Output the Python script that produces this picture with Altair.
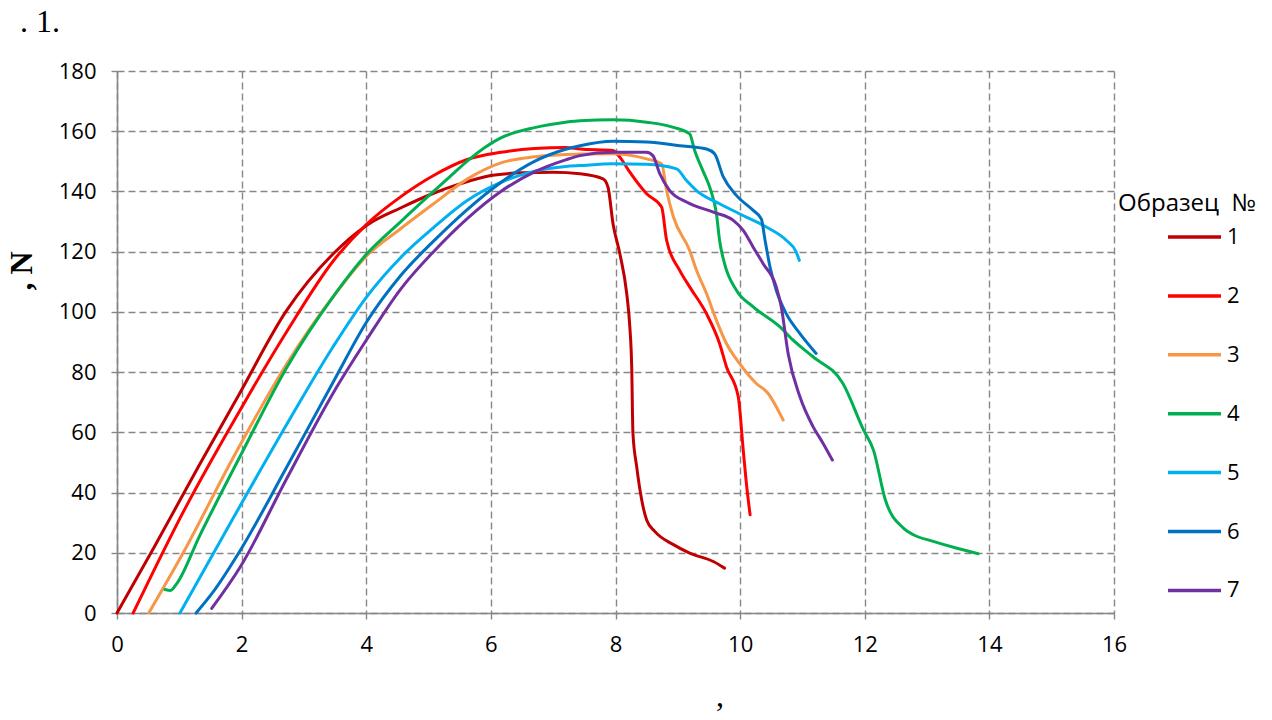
import altair as alt
import pandas as pd

# ---- data ----
x1 = [0, 0.6, 1.33, 1.97, 2.72, 3.47, 4.01, 4.55, 5.08, 5.5, 6.0, 6.5, 7.0, 7.43, 7.8, 7.88, 7.96, 8.07, 8.18, 8.23, 8.26, 8.28, 8.34, 8.42, 8.50, 8.63, 8.93, 9.19, 9.57, 9.75]
y1 = [0, 22, 49.5, 73, 100.4, 119.3, 128.8, 134.5, 139.4, 142.5, 145.3, 146.2, 146.4, 145.9, 144.2, 141.4, 129.3, 119.3, 106.1, 95, 81.8, 59.7, 48.6, 37.6, 30.9, 27.1, 22.7, 19.9, 17.1, 14.9]

x2 = [0.26, 1.1, 1.97, 2.72, 3.47, 4.0, 4.55, 5.08, 5.62, 6.16, 6.7, 7.2, 7.43, 7.96, 8.07, 8.23, 8.50, 8.74, 8.82, 9.03, 9.19, 9.46, 9.67, 9.78, 9.97, 10.05, 10.10, 10.16]
y2 = [0, 35, 67.2, 93.3, 116.9, 129, 138.2, 145.3, 150.6, 153, 154.3, 154.6, 154.1, 153.6, 151.4, 146.4, 139.2, 134.8, 123.8, 113.8, 108.3, 99.4, 89.5, 81.8, 71.8, 54.1, 43.1, 32.6]

x3 = [0.51, 1.06, 1.87, 2.72, 3.47, 4.01, 4.55, 5.08, 5.62, 6.16, 6.7, 7.2, 7.43, 7.96, 8.50, 8.74, 8.82, 8.93, 9.19, 9.30, 9.46, 9.62, 9.78, 9.99, 10.26, 10.45, 10.58, 10.69]
y3 = [0, 19.9, 51.8, 82.6, 105.1, 118.7, 127.6, 135.9, 144.1, 149.5, 151.5, 152.3, 152.4, 152.5, 150.8, 149.2, 140.3, 131.5, 120.4, 113.8, 106.1, 97.2, 89.5, 82.9, 76.2, 72.9, 68.5, 64.1]

x4 = [0.77, 0.86, 0.95, 1.33, 1.97, 2.72, 3.47, 4.01, 4.55, 5.08, 5.4, 5.62, 6.16, 6.7, 7.2, 7.43, 7.96, 8.50, 8.93, 9.19, 9.27, 9.40, 9.53, 9.62, 9.67, 9.75, 9.94, 10.21, 10.64, 10.85, 11.17, 11.65, 11.98, 12.14, 12.33, 12.62, 12.78, 13.10, 13.48, 13.82]
y4 = [7.8, 7.5, 9.5, 25.8, 51.8, 81.4, 105.1, 119.3, 129.9, 140, 146, 150.1, 157.8, 161.2, 163, 163.5, 163.8, 163, 161.3, 159.1, 153.6, 147, 140.3, 132.6, 123.8, 116, 107.2, 101.7, 95, 90.6, 85.1, 76.2, 60.8, 54.1, 37.6, 28.2, 26, 23.8, 21.5, 19.7]

x5 = [1.01, 1.87, 2.72, 3.47, 4.01, 4.55, 5.08, 5.62, 6.16, 6.7, 7.2, 7.43, 7.96, 8.50, 8.98, 9.14, 9.30, 9.67, 10.10, 10.42, 10.74, 10.90, 10.95]
y5 = [0, 31.7, 62.5, 88.5, 105.1, 118, 128, 137, 143, 146.7, 148.3, 148.6, 149.2, 149, 147.5, 143.6, 140.3, 135.9, 131.5, 128.2, 123.8, 119.9, 117.1]

x6 = [1.27, 1.54, 1.97, 2.72, 3.47, 4.01, 4.55, 5.08, 5.62, 6.16, 6.7, 7.2, 7.43, 7.96, 8.50, 9.03, 9.46, 9.59, 9.73, 9.94, 10.21, 10.34, 10.40, 10.48, 10.58, 10.74, 10.96, 11.22]
y6 = [0, 6.9, 20.5, 48.3, 76.7, 96.8, 112, 123.5, 134, 143, 150, 154, 155.2, 156.7, 156.4, 155.2, 154.1, 152.5, 144.8, 138.7, 133.7, 130.9, 123.8, 114.9, 107.2, 99.4, 92.8, 86.2]

x7 = [1.52, 1.97, 2.72, 3.47, 4.01, 4.55, 5.08, 5.62, 6.16, 6.7, 7.2, 7.43, 7.96, 8.50, 8.60, 8.71, 8.87, 9.14, 9.57, 9.89, 10.05, 10.21, 10.37, 10.58, 10.66, 10.77, 10.96, 11.17, 11.33, 11.48]
y7 = [1.5, 15, 44.5, 73.1, 90.9, 107.5, 120, 131, 140, 146.5, 150.5, 151.9, 153, 153, 151.9, 145.9, 140.3, 136.5, 133.1, 130.4, 127.1, 121.5, 116, 108.3, 101.7, 86.2, 71.8, 61.9, 56.4, 50.8]

samples = ["1", "2", "3", "4", "5", "6", "7"]
colors = ["#C00000", "#FF0000", "#F79646", "#00B050", "#00B0F0", "#0070C0", "#7030A0"]
x_ticks = [0, 2, 4, 6, 8, 10, 12, 14, 16]
y_ticks = [0, 20, 40, 60, 80, 100, 120, 140, 160, 180]

legend_title = "Образец\u00a0 №"
y_title = ", N"
x_title = ","
fig_label = ". 1."

# ---- build table ----
rows = []
for s, xs, ys in zip(samples, [x1, x2, x3, x4, x5, x6, x7], [y1, y2, y3, y4, y5, y6, y7]):
    for i, (xv, yv) in enumerate(zip(xs, ys)):
        rows.append({"sample": s, "x": xv, "y": yv, "i": i})
df = pd.DataFrame(rows)

W, H = 997, 542
FONT = "Open Sans"

lines = alt.Chart(df).mark_line(strokeWidth=3, strokeCap="round", strokeJoin="round",
                                interpolate="monotone").encode(
    x=alt.X("x:Q", scale=alt.Scale(domain=[0, 16], nice=False, zero=False),
            axis=alt.Axis(values=x_ticks, title=None, format="d", labelPadding=15)),
    y=alt.Y("y:Q", scale=alt.Scale(domain=[0, 180], nice=False),
            axis=alt.Axis(values=y_ticks, title=None, format="d", labelPadding=15)),
    color=alt.Color("sample:N", scale=alt.Scale(domain=samples, range=colors),
                    legend=alt.Legend(orient="none", legendX=1049, legendY=137.5, title=None,
                                      symbolType="stroke", symbolSize=2809, symbolStrokeWidth=3.5,
                                      labelFont=FONT, labelFontSize=22, labelColor="black",
                                      rowPadding=18.9, labelOffset=4, padding=0)),
    order=alt.Order("i:Q"),
)

def txt(t, x, y, **kw):
    return alt.Chart(pd.DataFrame({"t": [t]})).mark_text(**kw).encode(
        x=alt.value(x), y=alt.value(y), text="t:N")

t_leg = txt(legend_title, 1001, 140, font=FONT, fontSize=24, align="left", baseline="alphabetic", color="black")
t_y = txt(y_title, -95, 200, font="Liberation Serif", fontSize=32, fontWeight="bold", angle=270,
          align="center", baseline="middle", color="black")
t_x = txt(x_title, 603, 635, font="Liberation Serif", fontSize=32, align="center", baseline="alphabetic", color="black")
t_fig = txt(fig_label, -97, -39, font="Liberation Serif", fontSize=32, align="left", baseline="alphabetic", color="black")

chart = alt.layer(lines, t_leg, t_y, t_x, t_fig).properties(
    width=W, height=H, autosize="none",
    padding={"left": 109, "top": 63, "right": 150, "bottom": 99},
).configure_view(strokeWidth=0).configure_axis(
    grid=True, gridColor="#878787", gridDash=[7, 4], gridWidth=1.4,
    domainColor="#868686", domainWidth=1.6, tickColor="#868686", tickSize=6, tickWidth=1.4,
    labelFont=FONT, labelFontSize=22, labelColor="black", labelFlush=False,
)

chart.save("out.html", embed_options={"renderer": "svg", "actions": False})
